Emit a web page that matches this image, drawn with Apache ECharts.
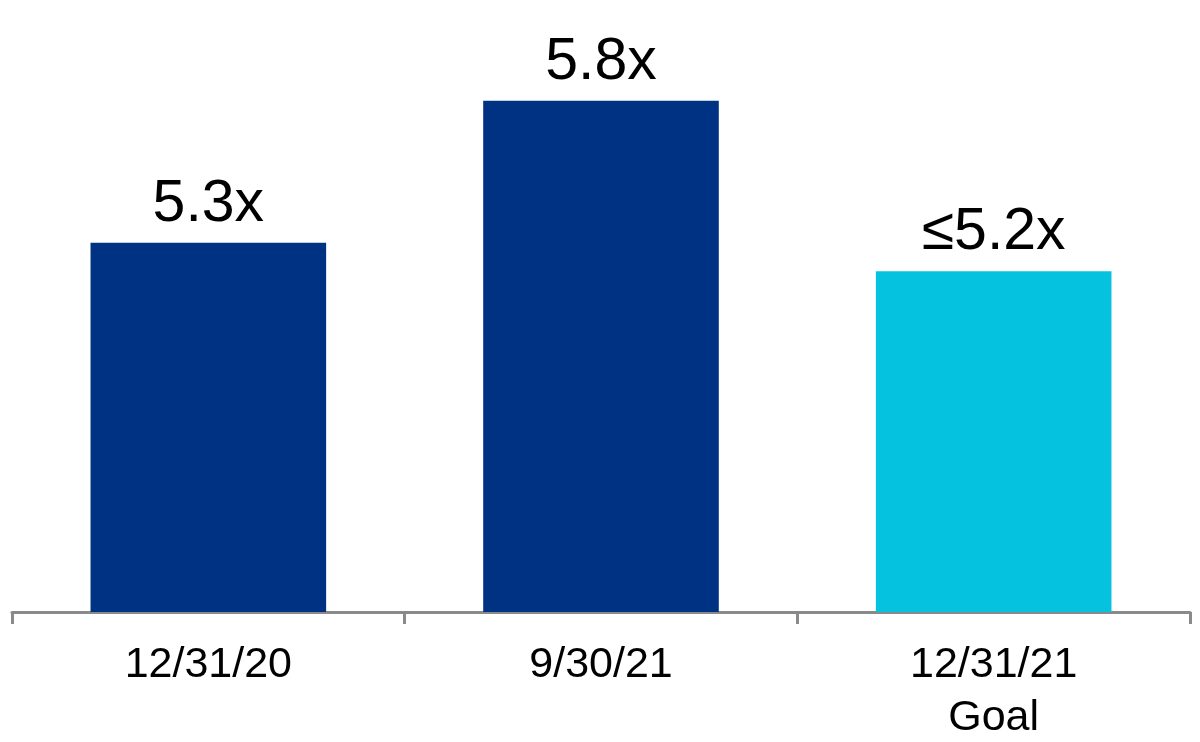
<!DOCTYPE html>
<html>
<head>
<meta charset="utf-8">
<script src="https://cdn.jsdelivr.net/npm/echarts@6/dist/echarts.min.js"></script>
<style>html,body{margin:0;padding:0;background:#fff;}#c{width:1200px;height:742px;}</style>
</head>
<body>
<div id="c"></div>
<script>
const categories = ['12/31/20', '9/30/21', '12/31/21\nGoal'];
const values = [5.3, 5.8, 5.2];
const valueLabels = ['5.3x', '5.8x', '≤5.2x'];
const barColors = ['#003283', '#003283', '#05C3DE'];

const chart = echarts.init(document.getElementById('c'));
chart.setOption({
  animation: false,
  grid: { left: 12, right: 10, top: 44, bottom: 130, outerBoundsMode: 'none', containLabel: false },
  xAxis: {
    type: 'category',
    data: categories,
    axisLine: { lineStyle: { color: '#8a8a8a', width: 3 } },
    axisTick: { show: true, length: 12, lineStyle: { color: '#8a8a8a', width: 3 } },
    axisLabel: { color: '#000', fontSize: 43, fontFamily: 'Liberation Sans, Arial, sans-serif', margin: 27, lineHeight: 53 }
  },
  yAxis: { type: 'value', min: 4, max: 6, show: false, splitLine: { show: false } },
  series: [{
    type: 'bar',
    barWidth: '60%',
    data: values.map((v, i) => ({ value: v, itemStyle: { color: barColors[i] } })),
    label: {
      show: true,
      position: 'top',
      distance: 9,
      color: '#000',
      fontSize: 59,
      fontFamily: 'Liberation Sans, Arial, sans-serif',
      formatter: p => valueLabels[p.dataIndex]
    }
  }]
});
</script>
</body>
</html>
